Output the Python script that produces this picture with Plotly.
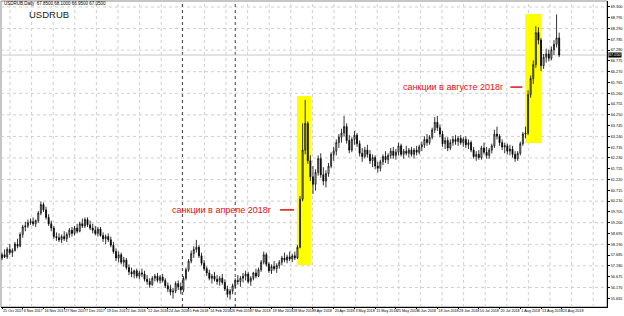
import plotly.graph_objects as go

# ---------------- data ----------------
date_labels = ["25 Oct 2017", "6 Nov 2017", "16 Nov 2017", "27 Nov 2017", "7 Dec 2017",
               "19 Dec 2017", "2 Jan 2018", "12 Jan 2018", "24 Jan 2018", "5 Feb 2018",
               "14 Feb 2018", "26 Feb 2018", "7 Mar 2018", "19 Mar 2018", "28 Mar 2018",
               "9 Apr 2018", "20 Apr 2018", "3 May 2018", "15 May 2018", "25 May 2018",
               "6 Jun 2018", "18 Jun 2018", "28 Jun 2018", "10 Jul 2018", "20 Jul 2018",
               "1 Aug 2018", "13 Aug 2018", "23 Aug 2018"]
date_label_bars = [0, 8, 16, 24, 32, 40, 48, 56, 64, 72, 80, 88, 96, 104, 112, 120,
                   128, 136, 144, 152, 160, 168, 176, 184, 192, 200, 208, 216]

opens = [57.55, 57.70, 57.60, 57.95, 57.80, 57.90, 58.20, 58.10, 58.65, 59.00,
         59.05, 59.20, 59.25, 59.15, 59.30, 59.65, 60.05, 59.80, 59.45, 59.15,
         58.95, 58.55, 58.50, 58.40, 58.55, 58.45, 58.65, 58.85, 58.70, 58.95,
         58.80, 59.15, 59.05, 59.35, 59.10, 58.95, 58.85, 58.70, 58.90, 58.60,
         58.45, 58.55, 58.40, 58.15, 57.85, 57.55, 57.70, 57.35, 57.45, 57.10,
         56.90, 56.80, 56.95, 56.70, 56.85, 56.80, 56.55, 56.45, 56.30, 56.60,
         56.70, 56.50, 56.65, 56.50, 56.25, 56.10, 55.95, 56.00, 56.35, 56.20,
         56.05, 56.60, 57.00, 57.40, 57.75, 57.95, 58.05, 57.65, 57.30, 57.05,
         56.85, 56.60, 56.70, 56.55, 56.45, 56.60, 56.40, 56.10, 55.85, 56.00,
         56.25, 56.50, 56.45, 56.60, 56.70, 56.80, 56.45, 56.60, 56.85, 56.70,
         57.00, 57.35, 57.70, 57.25, 56.95, 57.15, 57.05, 57.20, 57.35, 57.55,
         57.45, 57.60, 57.50, 57.65, 57.55, 58.05, 60.30, 62.60, 63.85, 62.10,
         61.35, 61.00, 61.55, 62.20, 61.45, 61.15, 61.50, 61.85, 62.40, 62.55,
         62.95, 63.20, 63.40, 63.70, 63.05, 62.60, 63.10, 63.30, 62.90, 62.45,
         62.30, 62.60, 62.40, 62.10, 62.25, 61.85, 61.75, 62.05, 62.30, 62.15,
         62.35, 62.55, 62.35, 62.50, 62.80, 62.40, 62.55, 62.45, 62.60, 62.40,
         62.60, 62.50, 62.75, 62.85, 63.10, 62.95, 63.20, 63.55, 63.90, 63.65,
         63.35, 62.90, 63.05, 62.70, 62.95, 63.10, 63.00, 63.15, 62.95, 63.10,
         62.85, 62.95, 62.60, 62.30, 62.40, 62.25, 62.70, 62.50, 62.35, 62.60,
         62.80, 63.35, 63.25, 62.95, 62.75, 62.80, 62.55, 62.65, 62.40, 62.20,
         62.45, 62.90, 63.35, 63.40, 65.20, 65.95, 66.60, 68.10, 67.75, 66.55,
         66.95, 67.10, 66.90, 67.30, 67.55, 67.85]
highs = [57.80, 57.95, 58.05, 58.20, 58.00, 58.30, 58.45, 58.75, 59.10, 59.25,
         59.35, 59.40, 59.45, 59.35, 59.75, 60.20, 60.15, 59.95, 59.60, 59.30,
         59.05, 58.75, 58.70, 58.65, 58.80, 58.75, 58.95, 59.00, 59.05, 59.15,
         59.25, 59.40, 59.45, 59.45, 59.30, 59.15, 59.05, 59.00, 59.00, 58.75,
         58.65, 58.70, 58.55, 58.30, 58.00, 57.85, 57.80, 57.60, 57.55, 57.25,
         57.10, 57.00, 57.05, 56.95, 57.05, 56.95, 56.75, 56.60, 56.70, 56.80,
         56.85, 56.75, 56.80, 56.60, 56.40, 56.30, 56.15, 56.45, 56.50, 56.40,
         56.70, 57.10, 57.50, 57.90, 58.10, 58.40, 58.15, 57.80, 57.45, 57.15,
         57.00, 56.80, 56.90, 56.75, 56.70, 56.80, 56.55, 56.25, 56.10, 56.35,
         56.60, 56.75, 56.70, 56.85, 56.95, 56.90, 56.70, 56.90, 57.05, 57.10,
         57.45, 57.85, 57.80, 57.35, 57.25, 57.40, 57.30, 57.45, 57.65, 57.80,
         57.70, 57.85, 57.75, 57.85, 58.15, 60.45, 63.85, 64.95, 63.95, 62.35,
         61.85, 61.70, 62.35, 62.45, 61.80, 61.65, 62.00, 62.50, 62.75, 63.10,
         63.35, 63.60, 64.20, 63.85, 63.30, 63.20, 63.50, 63.40, 63.05, 62.70,
         62.75, 62.85, 62.60, 62.40, 62.35, 62.05, 62.15, 62.40, 62.55, 62.45,
         62.70, 62.75, 62.65, 62.95, 62.90, 62.65, 62.80, 62.70, 62.75, 62.70,
         62.80, 62.85, 63.00, 63.25, 63.35, 63.30, 63.65, 64.15, 64.20, 63.80,
         63.50, 63.20, 63.20, 63.10, 63.25, 63.30, 63.25, 63.30, 63.20, 63.25,
         63.10, 63.05, 62.75, 62.55, 62.60, 62.80, 62.95, 62.75, 62.70, 62.90,
         63.55, 63.70, 63.35, 63.10, 62.95, 62.90, 62.85, 62.80, 62.55, 62.55,
         63.00, 63.45, 63.70, 65.40, 66.10, 66.80, 68.40, 68.35, 67.85, 67.10,
         67.35, 67.30, 67.45, 67.75, 68.95, 68.10]
lows = [57.45, 57.55, 57.50, 57.70, 57.60, 57.85, 58.00, 58.05, 58.50, 58.80,
        58.95, 59.10, 59.05, 59.00, 59.20, 59.55, 59.70, 59.35, 59.05, 58.80,
        58.45, 58.35, 58.30, 58.25, 58.35, 58.30, 58.50, 58.55, 58.60, 58.70,
        58.75, 58.95, 58.95, 59.00, 58.85, 58.70, 58.60, 58.55, 58.55, 58.30,
        58.20, 58.30, 58.05, 57.75, 57.40, 57.35, 57.25, 57.15, 57.00, 56.75,
        56.65, 56.60, 56.60, 56.55, 56.65, 56.45, 56.30, 56.15, 56.25, 56.45,
        56.40, 56.35, 56.40, 56.15, 55.95, 55.80, 55.65, 55.90, 56.05, 55.85,
        55.95, 56.50, 56.90, 57.30, 57.55, 57.80, 57.55, 57.20, 56.95, 56.70,
        56.50, 56.35, 56.45, 56.30, 56.25, 56.30, 56.00, 55.70, 55.60, 55.85,
        56.15, 56.30, 56.20, 56.40, 56.50, 56.35, 56.25, 56.50, 56.60, 56.65,
        56.90, 57.25, 57.15, 56.85, 56.80, 56.95, 56.85, 57.05, 57.20, 57.35,
        57.30, 57.40, 57.35, 57.45, 57.50, 58.00, 60.20, 62.40, 61.95, 61.15,
        60.55, 60.70, 61.40, 61.30, 60.95, 60.85, 61.35, 61.75, 62.10, 62.35,
        62.70, 62.95, 63.25, 62.90, 62.45, 62.50, 62.85, 62.75, 62.30, 62.05,
        62.20, 62.25, 61.95, 61.80, 61.70, 61.55, 61.60, 61.90, 62.00, 61.95,
        62.20, 62.20, 62.15, 62.35, 62.30, 62.20, 62.35, 62.25, 62.30, 62.20,
        62.35, 62.40, 62.55, 62.70, 62.80, 62.85, 63.10, 63.40, 63.50, 63.20,
        62.75, 62.65, 62.55, 62.60, 62.80, 62.85, 62.80, 62.85, 62.75, 62.70,
        62.65, 62.50, 62.20, 62.10, 62.15, 62.15, 62.40, 62.20, 62.20, 62.45,
        62.70, 63.10, 62.80, 62.60, 62.45, 62.40, 62.35, 62.25, 62.05, 62.10,
        62.35, 62.80, 63.15, 63.30, 65.05, 65.70, 66.45, 67.55, 66.30, 66.40,
        66.70, 66.75, 66.80, 67.05, 67.40, 66.95]
closes = [57.70, 57.60, 57.95, 57.80, 57.90, 58.20, 58.10, 58.65, 59.00, 59.05,
          59.20, 59.25, 59.15, 59.30, 59.65, 60.05, 59.80, 59.45, 59.15, 58.95,
          58.55, 58.50, 58.40, 58.55, 58.45, 58.65, 58.85, 58.70, 58.95, 58.80,
          59.15, 59.05, 59.35, 59.10, 58.95, 58.85, 58.70, 58.90, 58.60, 58.45,
          58.55, 58.40, 58.15, 57.85, 57.55, 57.70, 57.35, 57.45, 57.10, 56.90,
          56.80, 56.95, 56.70, 56.85, 56.80, 56.55, 56.45, 56.30, 56.60, 56.70,
          56.50, 56.65, 56.50, 56.25, 56.10, 55.95, 56.00, 56.35, 56.20, 56.05,
          56.60, 57.00, 57.40, 57.75, 57.95, 58.05, 57.65, 57.30, 57.05, 56.85,
          56.60, 56.70, 56.55, 56.45, 56.60, 56.40, 56.10, 55.85, 56.00, 56.25,
          56.50, 56.45, 56.60, 56.70, 56.80, 56.45, 56.60, 56.85, 56.70, 57.00,
          57.35, 57.70, 57.25, 56.95, 57.15, 57.05, 57.20, 57.35, 57.55, 57.45,
          57.60, 57.50, 57.65, 57.55, 58.05, 60.30, 62.60, 63.85, 62.10, 61.35,
          61.00, 61.55, 62.20, 61.45, 61.15, 61.50, 61.85, 62.40, 62.55, 62.95,
          63.20, 63.40, 63.70, 63.05, 62.60, 63.10, 63.30, 62.90, 62.45, 62.30,
          62.60, 62.40, 62.10, 62.25, 61.85, 61.75, 62.05, 62.30, 62.15, 62.35,
          62.55, 62.35, 62.50, 62.80, 62.40, 62.55, 62.45, 62.60, 62.40, 62.60,
          62.50, 62.75, 62.85, 63.10, 62.95, 63.20, 63.55, 63.90, 63.65, 63.35,
          62.90, 63.05, 62.70, 62.95, 63.10, 63.00, 63.15, 62.95, 63.10, 62.85,
          62.95, 62.60, 62.30, 62.40, 62.25, 62.70, 62.50, 62.35, 62.60, 62.80,
          63.35, 63.25, 62.95, 62.75, 62.80, 62.55, 62.65, 62.40, 62.20, 62.45,
          62.90, 63.35, 63.40, 65.20, 65.95, 66.60, 68.10, 67.75, 66.55, 66.95,
          67.10, 66.90, 67.30, 67.55, 67.85, 67.05]

price_ticks = [69.300, 68.795, 68.290, 67.785, 67.280, 66.775, 66.270, 65.765, 65.260,
               64.755, 64.250, 63.745, 63.240, 62.735, 62.230, 61.725, 61.220, 60.715,
               60.210, 59.705, 59.200, 58.695, 58.190, 57.685, 57.180, 56.675, 56.170,
               55.665]

symbol_name = "USDRUB"
title_line = "USDRUB,Daily  67.8500 68.1000 66.9500 67.0500"
last_price = 67.05

# highlight boxes: (bar from, bar to, price low, price high)
highlights = [(113.8, 119.2, 57.22, 65.13), (201.9, 208.1, 62.93, 68.97)]
# red notes: (text, right-edge bar, price, line from bar, line to bar)
notes = [("санкции в апреле 2018г", 105.0, 59.80, 107.3, 112.7),
         ("санкции в августе 2018г", 194.6, 65.55, 196.2, 200.8)]
separator_bars = [69.6, 90.0]

# ---------------- figure ----------------
W, H = 624, 316
ML, MR, MT, MB = 1, 17, 1, 9
PW = W - ML - MR
PH = H - MT - MB
X_RANGE = [-0.385, 233.46]
Y_RANGE = [55.254, 69.58]

bars = list(range(len(opens)))

fig = go.Figure(go.Candlestick(
    x=bars, open=opens, high=highs, low=lows, close=closes,
    increasing=dict(line=dict(color="black", width=0.8), fillcolor="white"),
    decreasing=dict(line=dict(color="black", width=0.8), fillcolor="black"),
    whiskerwidth=0, showlegend=False, hoverinfo="skip"))

shapes = []
# frame
shapes.append(dict(type="rect", xref="paper", yref="paper", x0=0, x1=1, y0=0, y1=1,
                   line=dict(color="#8c8c8c", width=1), layer="below"))
# horizontal dotted grid
for v in price_ticks[::2]:
    shapes.append(dict(type="line", xref="paper", yref="y", x0=0, x1=1, y0=v, y1=v,
                       line=dict(color="#cfcfcf", width=1, dash="dot"), layer="below"))
# vertical dotted grid (every 21.6 px starting at x=10)
for k in range(28):
    px = 10 + 21.6 * k
    xp = (px - ML) / PW
    if xp < 1:
        shapes.append(dict(type="line", xref="paper", yref="paper", x0=xp, x1=xp, y0=0, y1=1,
                           line=dict(color="#cfcfcf", width=1, dash="dot"), layer="below"))
# yellow highlights
for b0, b1, p0, p1 in highlights:
    shapes.append(dict(type="rect", xref="x", yref="y", x0=b0, x1=b1, y0=p0, y1=p1,
                       fillcolor="#ffff00", line=dict(width=0), layer="below"))
# dark separators
for b in separator_bars:
    shapes.append(dict(type="line", xref="x", yref="paper", x0=b, x1=b, y0=0, y1=1,
                       line=dict(color="#404040", width=1, dash="dot"), layer="below"))
# bid line
shapes.append(dict(type="line", xref="paper", yref="y", x0=0, x1=1, y0=last_price, y1=last_price,
                   line=dict(color="#c8c8c8", width=1), layer="below"))
# red note lines
for txt, xr, yp, l0, l1 in notes:
    shapes.append(dict(type="line", xref="x", yref="y", x0=l0, x1=l1, y0=yp, y1=yp,
                       line=dict(color="#e01010", width=1.5), layer="above"))

annotations = []
for txt, xr, yp, l0, l1 in notes:
    annotations.append(dict(text=txt, xref="x", yref="y", x=xr, y=yp, xanchor="right",
                            yanchor="middle", showarrow=False,
                            font=dict(family="Arial, Liberation Sans", size=9, color="#e01010")))
annotations.append(dict(text=symbol_name, xref="paper", yref="paper",
                        x=(27 - ML) / PW, y=1 - (15 - MT) / PH, xanchor="left", yanchor="middle",
                        showarrow=False, font=dict(family="Arial, Liberation Sans", size=9.5, color="#1a1a1a")))
annotations.append(dict(text=title_line, xref="paper", yref="paper",
                        x=(2 - ML) / PW, y=1 - (4 - MT) / PH, xanchor="left", yanchor="middle",
                        showarrow=False, font=dict(family="Arial, Liberation Sans", size=4.5, color="#000000")))
annotations.append(dict(text=f"{last_price:.3f}", xref="paper", yref="y", x=1, y=last_price,
                        xanchor="left", yanchor="middle", xshift=1, showarrow=False,
                        bgcolor="#000000", borderpad=0,
                        font=dict(family="Arial, Liberation Sans", size=3.8, color="#ffffff")))

fig.update_layout(
    width=W, height=H, margin=dict(l=ML, r=MR, t=MT, b=MB, autoexpand=False),
    paper_bgcolor="white", plot_bgcolor="white",
    font=dict(family="Arial, Liberation Sans", color="black"),
    boxgap=0.45, boxgroupgap=0.3,
    shapes=shapes, annotations=annotations, showlegend=False,
    xaxis=dict(range=X_RANGE, tickmode="array", tickvals=date_label_bars, ticktext=date_labels,
               tickfont=dict(size=3.7), tickangle=0, ticks="outside", ticklen=1, tickcolor="black",
               ticklabelposition="outside right", showgrid=False, zeroline=False,
               showline=True, linecolor="black", linewidth=1, rangeslider=dict(visible=False),
               automargin=False, fixedrange=True),
    yaxis=dict(range=Y_RANGE, side="right", tickmode="array", tickvals=price_ticks,
               ticktext=[f"{v:.3f}" for v in price_ticks], tickfont=dict(size=3.8),
               ticks="outside", ticklen=2, tickcolor="black", showgrid=False, zeroline=False,
               showline=True, linecolor="black", linewidth=1, automargin=False, fixedrange=True),
)

fig.write_html("out.html", config={"displayModeBar": False})
